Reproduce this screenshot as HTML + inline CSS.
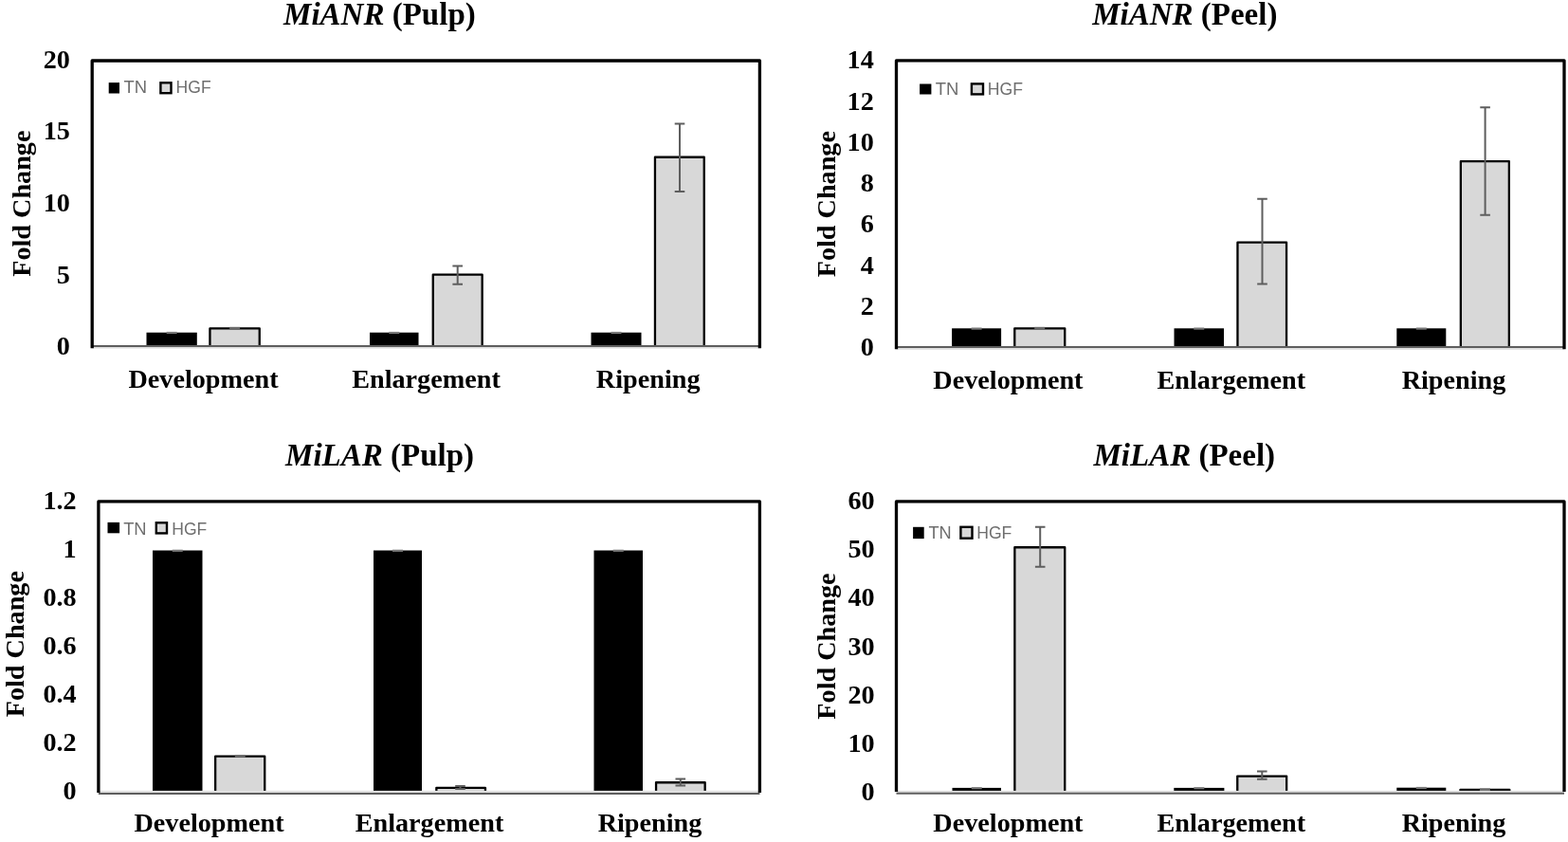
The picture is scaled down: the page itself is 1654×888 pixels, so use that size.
<!DOCTYPE html>
<html><head><meta charset="utf-8"><title>MiANR and MiLAR fold change</title>
<style>
html,body{margin:0;padding:0;background:#fff;}
body{width:1654px;height:888px;overflow:hidden;}
svg{display:block;}
.ax{font-family:'Liberation Serif', 'Times New Roman', serif;font-weight:bold;font-size:28.2px;fill:#000;}
.ti{font-family:'Liberation Serif', 'Times New Roman', serif;font-weight:bold;font-size:33.0px;fill:#000;}
.lg{font-family:'Liberation Sans', Arial, sans-serif;font-size:18.5px;fill:#6e6e6e;}
</style></head>
<body>
<svg width="1654" height="888" viewBox="0 0 1654 888">
<rect width="1654" height="888" fill="#fff"/>
<g id="TL"><rect x="220.8" y="345.7" width="53.6" height="19.3" fill="#d8d8d8"/>
<path d="M221.45 365V346.35H273.75V365" stroke="#000" stroke-width="2.3" fill="none" stroke-linejoin="round"/>
<rect x="456.1" y="289" width="53.2" height="76" fill="#d8d8d8"/>
<path d="M456.75 365V289.65H508.65V365" stroke="#000" stroke-width="2.3" fill="none" stroke-linejoin="round"/>
<rect x="690.3" y="165.1" width="53.1" height="199.9" fill="#d8d8d8"/>
<path d="M690.95 365V165.75H742.75V365" stroke="#000" stroke-width="2.3" fill="none" stroke-linejoin="round"/>
<rect x="154.5" y="350.7" width="53.3" height="14.3" fill="#000"/>
<rect x="390" y="350.7" width="51.5" height="14.3" fill="#000"/>
<rect x="623.5" y="350.7" width="53" height="14.3" fill="#000"/>
<rect x="175.65" y="349.9" width="11" height="2.2" fill="#777"/>
<rect x="410.25" y="349.9" width="11" height="2.2" fill="#777"/>
<rect x="644.5" y="349.9" width="11" height="2.2" fill="#777"/>
<rect x="242.1" y="344.8" width="11" height="2.6" fill="#6a6a6a"/>
<path d="M482.7 280.4V299.7M477.4 280.4H488M477.4 299.7H488" stroke="#5e5e5e" stroke-width="2" fill="none"/>
<path d="M717 130.4V201.9M711.7 130.4H722.3M711.7 201.9H722.3" stroke="#5e5e5e" stroke-width="2" fill="none"/>
<rect x="97.2" y="366" width="704.2" height="1.6" fill="#dedede"/>
<path d="M97.2 365H801.4" stroke="#5e5e5e" stroke-width="2" fill="none"/>
<path d="M97.2 367.2V64H801.4V367.2" stroke="#000" stroke-width="3.3" fill="none" stroke-linejoin="round"/>
<text x="73.93" y="374.44" text-anchor="end" class="ax">0</text>
<text x="73.93" y="298.79" text-anchor="end" class="ax">5</text>
<text x="73.93" y="223.14" text-anchor="end" class="ax">10</text>
<text x="73.93" y="147.49" text-anchor="end" class="ax">15</text>
<text x="73.93" y="71.84" text-anchor="end" class="ax">20</text>
<text transform="translate(31.5 214.7) rotate(-90)" x="0" y="0" text-anchor="middle" class="ax">Fold Change</text>
<text x="299.1" y="25.5" class="ti"><tspan font-style="italic">MiANR</tspan> (Pulp)</text>
<text x="214.5" y="408.6" text-anchor="middle" class="ax">Development</text>
<text x="449.5" y="408.6" text-anchor="middle" class="ax">Enlargement</text>
<text x="683.7" y="408.6" text-anchor="middle" class="ax">Ripening</text>
<rect x="114.7" y="87.1" width="11.3" height="11.4" fill="#000"/>
<rect x="169.4" y="87.3" width="11.1" height="10.9" fill="#d8d8d8" stroke="#000" stroke-width="2.4"/>
<text x="130.53" y="98.3" class="lg" textLength="24.55" lengthAdjust="spacingAndGlyphs">TN</text>
<text x="185.62" y="98.3" class="lg" textLength="37.02" lengthAdjust="spacingAndGlyphs">HGF</text></g>
<g id="TR"><rect x="1069.6" y="345.7" width="54.3" height="20.3" fill="#d8d8d8"/>
<path d="M1070.25 366V346.35H1123.25V366" stroke="#000" stroke-width="2.3" fill="none" stroke-linejoin="round"/>
<rect x="1304.8" y="255" width="52.9" height="111" fill="#d8d8d8"/>
<path d="M1305.45 366V255.65H1357.05V366" stroke="#000" stroke-width="2.3" fill="none" stroke-linejoin="round"/>
<rect x="1540.2" y="169.4" width="52.3" height="196.6" fill="#d8d8d8"/>
<path d="M1540.85 366V170.05H1591.85V366" stroke="#000" stroke-width="2.3" fill="none" stroke-linejoin="round"/>
<rect x="1004.1" y="346.3" width="52" height="19.7" fill="#000"/>
<rect x="1238.5" y="346.3" width="52.5" height="19.7" fill="#000"/>
<rect x="1473.3" y="346.3" width="52" height="19.7" fill="#000"/>
<rect x="1024.6" y="345.5" width="11" height="2.2" fill="#777"/>
<rect x="1259.25" y="345.5" width="11" height="2.2" fill="#777"/>
<rect x="1493.8" y="345.5" width="11" height="2.2" fill="#777"/>
<rect x="1091.2" y="344.8" width="11" height="2.6" fill="#6a6a6a"/>
<path d="M1331.5 209.8V299.5M1326.2 209.8H1336.8M1326.2 299.5H1336.8" stroke="#5e5e5e" stroke-width="2" fill="none"/>
<path d="M1566.6 113.2V226.7M1561.3 113.2H1571.9M1561.3 226.7H1571.9" stroke="#5e5e5e" stroke-width="2" fill="none"/>
<rect x="945.5" y="367" width="704.5" height="1.8" fill="#dedede"/>
<path d="M945.5 366.05H1650" stroke="#5e5e5e" stroke-width="2" fill="none"/>
<path d="M945.5 368.2V63.8H1650V368.2" stroke="#000" stroke-width="3.3" fill="none" stroke-linejoin="round"/>
<text x="921.73" y="375.34" text-anchor="end" class="ax">0</text>
<text x="921.73" y="332.04" text-anchor="end" class="ax">2</text>
<text x="921.73" y="288.74" text-anchor="end" class="ax">4</text>
<text x="921.73" y="245.44" text-anchor="end" class="ax">6</text>
<text x="921.73" y="202.14" text-anchor="end" class="ax">8</text>
<text x="921.73" y="158.84" text-anchor="end" class="ax">10</text>
<text x="921.73" y="115.54" text-anchor="end" class="ax">12</text>
<text x="921.73" y="72.24" text-anchor="end" class="ax">14</text>
<text transform="translate(881 215.2) rotate(-90)" x="0" y="0" text-anchor="middle" class="ax">Fold Change</text>
<text x="1152.19" y="25.5" class="ti"><tspan font-style="italic">MiANR</tspan> (Peel)</text>
<text x="1063.4" y="409.7" text-anchor="middle" class="ax">Development</text>
<text x="1298.8" y="409.7" text-anchor="middle" class="ax">Enlargement</text>
<text x="1533.5" y="409.7" text-anchor="middle" class="ax">Ripening</text>
<rect x="970.1" y="88.5" width="12.3" height="11" fill="#000"/>
<rect x="1024.9" y="88.4" width="12.1" height="11" fill="#d8d8d8" stroke="#000" stroke-width="2.4"/>
<text x="986.73" y="99.5" class="lg" textLength="24.65" lengthAdjust="spacingAndGlyphs">TN</text>
<text x="1041.82" y="99.5" class="lg" textLength="37.22" lengthAdjust="spacingAndGlyphs">HGF</text></g>
<g id="BL"><rect x="226.5" y="797" width="53.4" height="37.5" fill="#d8d8d8"/>
<path d="M227.15 834.5V797.65H279.25V834.5" stroke="#000" stroke-width="2.3" fill="none" stroke-linejoin="round"/>
<rect x="459.7" y="830.2" width="52.9" height="4.3" fill="#d8d8d8"/>
<path d="M460.35 834.5V830.85H511.95V834.5" stroke="#000" stroke-width="2.3" fill="none" stroke-linejoin="round"/>
<rect x="691.4" y="824.6" width="52.9" height="9.9" fill="#d8d8d8"/>
<path d="M692.05 834.5V825.25H743.65V834.5" stroke="#000" stroke-width="2.3" fill="none" stroke-linejoin="round"/>
<rect x="161" y="580.5" width="52.5" height="254" fill="#000"/>
<rect x="394" y="580.5" width="51" height="254" fill="#000"/>
<rect x="626.5" y="580.5" width="51.5" height="254" fill="#000"/>
<rect x="181.75" y="579.7" width="11" height="2.2" fill="#777"/>
<rect x="414" y="579.7" width="11" height="2.2" fill="#777"/>
<rect x="646.75" y="579.7" width="11" height="2.2" fill="#777"/>
<rect x="247.8" y="796.1" width="11" height="2.6" fill="#6a6a6a"/>
<path d="M717.8 821.4V828.6M712.5 821.4H723.1M712.5 828.6H723.1" stroke="#5e5e5e" stroke-width="2" fill="none"/>
<path d="M485.5 829V832M480.2 829H490.8M480.2 832H490.8" stroke="#5e5e5e" stroke-width="2" fill="none"/>
<rect x="103.9" y="833.9" width="697.5" height="2" fill="#dedede"/>
<path d="M103.9 836.9H801.4" stroke="#5e5e5e" stroke-width="2" fill="none"/>
<path d="M103.9 836V528.9H801.4V836" stroke="#000" stroke-width="3.3" fill="none" stroke-linejoin="round"/>
<text x="80.63" y="843.14" text-anchor="end" class="ax">0</text>
<text x="80.63" y="792.15" text-anchor="end" class="ax">0.2</text>
<text x="80.63" y="741.17" text-anchor="end" class="ax">0.4</text>
<text x="80.63" y="690.19" text-anchor="end" class="ax">0.6</text>
<text x="80.63" y="639.2" text-anchor="end" class="ax">0.8</text>
<text x="80.63" y="588.22" text-anchor="end" class="ax">1</text>
<text x="80.63" y="537.24" text-anchor="end" class="ax">1.2</text>
<text transform="translate(24.5 679.2) rotate(-90)" x="0" y="0" text-anchor="middle" class="ax">Fold Change</text>
<text x="301.1" y="490.6" class="ti"><tspan font-style="italic">MiLAR</tspan> (Pulp)</text>
<text x="220.5" y="877.1" text-anchor="middle" class="ax">Development</text>
<text x="453" y="877.1" text-anchor="middle" class="ax">Enlargement</text>
<text x="685.5" y="877.1" text-anchor="middle" class="ax">Ripening</text>
<rect x="113.5" y="550.9" width="12.6" height="11.4" fill="#000"/>
<rect x="164.8" y="551.3" width="11.2" height="11.1" fill="#d8d8d8" stroke="#000" stroke-width="2.4"/>
<text x="130.13" y="563.6" class="lg" textLength="24.45" lengthAdjust="spacingAndGlyphs">TN</text>
<text x="181.32" y="563.6" class="lg" textLength="37.02" lengthAdjust="spacingAndGlyphs">HGF</text></g>
<g id="BR"><rect x="1069.7" y="576.6" width="54.2" height="257.9" fill="#d8d8d8"/>
<path d="M1070.35 834.5V577.25H1123.25V834.5" stroke="#000" stroke-width="2.3" fill="none" stroke-linejoin="round"/>
<rect x="1304.6" y="817.9" width="53.2" height="16.6" fill="#d8d8d8"/>
<path d="M1305.25 834.5V818.55H1357.15V834.5" stroke="#000" stroke-width="2.3" fill="none" stroke-linejoin="round"/>
<rect x="1539.8" y="832.3" width="53.2" height="2.2" fill="#d8d8d8"/>
<path d="M1540.45 834.5V832.95H1592.35V834.5" stroke="#000" stroke-width="2.3" fill="none" stroke-linejoin="round"/>
<rect x="1004.5" y="830.9" width="51.5" height="3.6" fill="#000"/>
<rect x="1238.3" y="830.9" width="53.1" height="3.6" fill="#000"/>
<rect x="1473.3" y="830.7" width="52" height="3.8" fill="#000"/>
<rect x="1024.75" y="830.1" width="11" height="2.2" fill="#777"/>
<rect x="1259.35" y="830.1" width="11" height="2.2" fill="#777"/>
<rect x="1493.8" y="829.9" width="11" height="2.2" fill="#777"/>
<rect x="1560.9" y="831.4" width="11" height="2.6" fill="#6a6a6a"/>
<path d="M1097.2 555.8V597.7M1091.9 555.8H1102.5M1091.9 597.7H1102.5" stroke="#5e5e5e" stroke-width="2" fill="none"/>
<path d="M1331.3 813.4V821.7M1326 813.4H1336.6M1326 821.7H1336.6" stroke="#5e5e5e" stroke-width="2" fill="none"/>
<rect x="945.5" y="833.9" width="704.5" height="2" fill="#dedede"/>
<path d="M945.5 836.7H1650" stroke="#5e5e5e" stroke-width="2" fill="none"/>
<path d="M945.5 835V528.9H1650V835" stroke="#000" stroke-width="3.3" fill="none" stroke-linejoin="round"/>
<text x="922.63" y="843.94" text-anchor="end" class="ax">0</text>
<text x="922.63" y="792.82" text-anchor="end" class="ax">10</text>
<text x="922.63" y="741.7" text-anchor="end" class="ax">20</text>
<text x="922.63" y="690.59" text-anchor="end" class="ax">30</text>
<text x="922.63" y="639.47" text-anchor="end" class="ax">40</text>
<text x="922.63" y="588.35" text-anchor="end" class="ax">50</text>
<text x="922.63" y="537.24" text-anchor="end" class="ax">60</text>
<text transform="translate(881 681.5) rotate(-90)" x="0" y="0" text-anchor="middle" class="ax">Fold Change</text>
<text x="1153.49" y="490.6" class="ti"><tspan font-style="italic">MiLAR</tspan> (Peel)</text>
<text x="1063.4" y="877.1" text-anchor="middle" class="ax">Development</text>
<text x="1298.8" y="877.1" text-anchor="middle" class="ax">Enlargement</text>
<text x="1533.5" y="877.1" text-anchor="middle" class="ax">Ripening</text>
<rect x="963.1" y="555.8" width="11.6" height="12.3" fill="#000"/>
<rect x="1013.4" y="555.8" width="12.1" height="11.9" fill="#d8d8d8" stroke="#000" stroke-width="2.4"/>
<text x="979.43" y="568.2" class="lg" textLength="24.25" lengthAdjust="spacingAndGlyphs">TN</text>
<text x="1030.22" y="568.2" class="lg" textLength="37.12" lengthAdjust="spacingAndGlyphs">HGF</text></g>
</svg>
</body></html>
